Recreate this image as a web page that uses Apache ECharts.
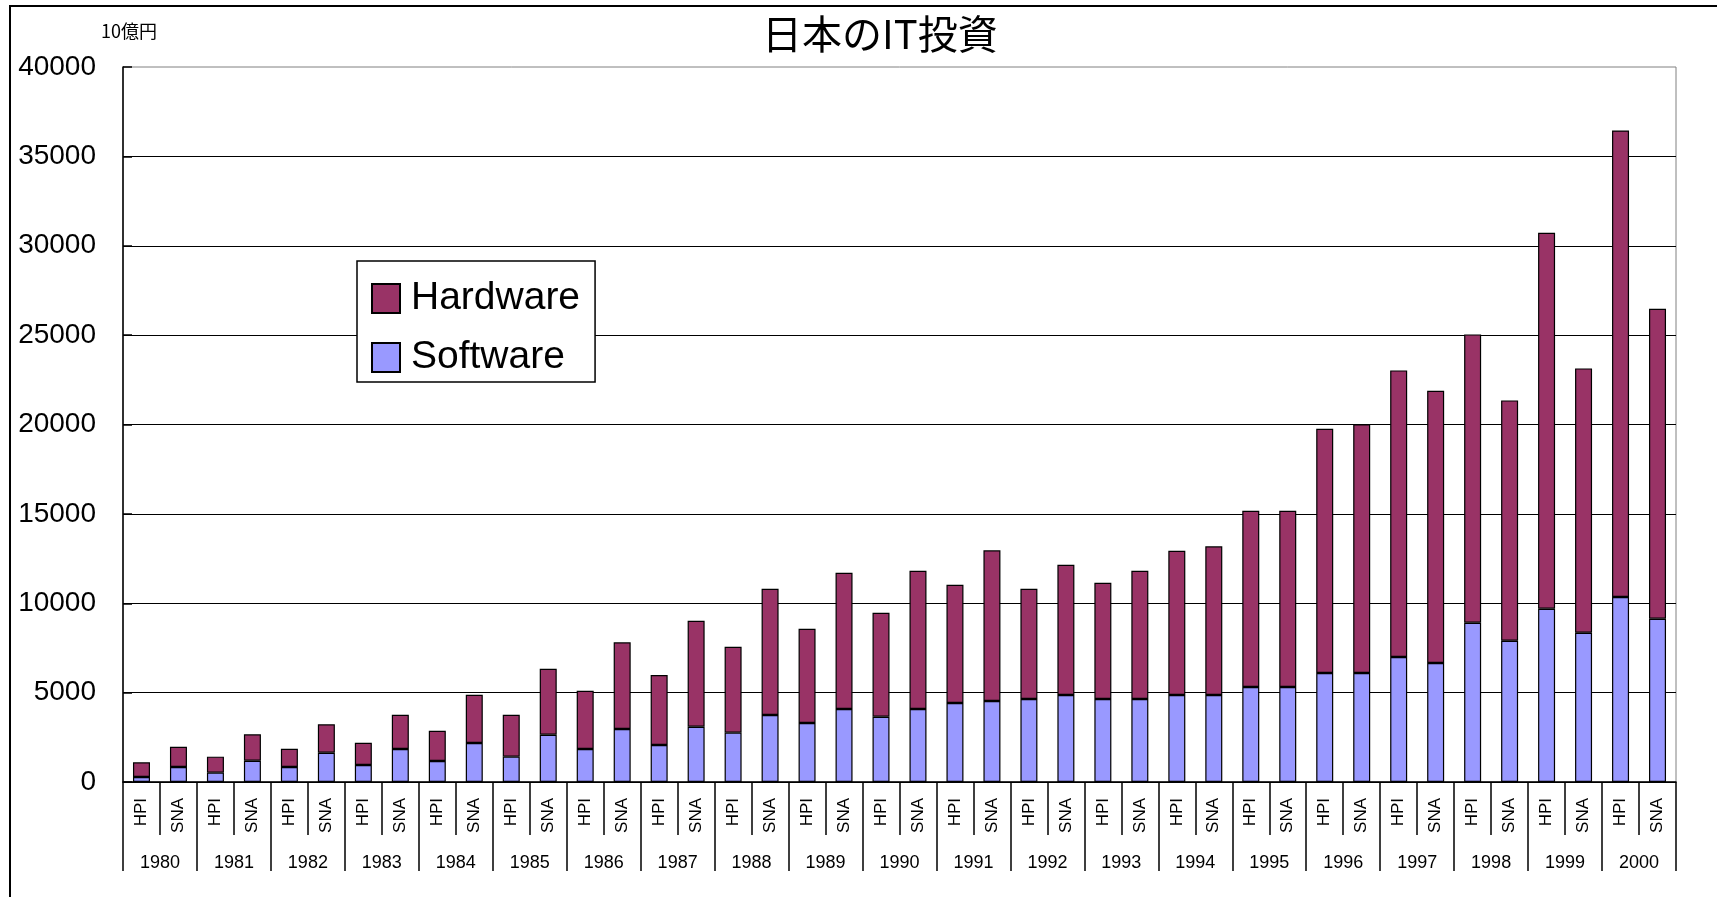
<!DOCTYPE html>
<html>
<head>
<meta charset="utf-8">
<title>日本のIT投資</title>
<script src="https://cdn.jsdelivr.net/npm/echarts@6/dist/echarts.min.js"></script>
<style>
    html, body { margin: 0; padding: 0; background: #fff; }
    #chartDiv { width: 1717px; height: 897px; }
</style>
</head>
<body>
<div id="chartDiv"></div>
<script>
var years = ['1980', '1981', '1982', '1983', '1984', '1985', '1986', '1987', '1988', '1989', '1990',
    '1991', '1992', '1993', '1994', '1995', '1996', '1997', '1998', '1999', '2000'];
var sources = ['HPI', 'SNA'];
var yTicks = [0, 5000, 10000, 15000, 20000, 25000, 30000, 35000, 40000];

// 10億円, HPI / SNA alternately per year
var software = [280, 840, 522, 1193, 840, 1640, 950, 1846, 1175, 2181, 1417, 2647, 1846, 2964,
    2069, 3094, 2760, 3747, 3300, 4083, 3654, 4083, 4418, 4530, 4642, 4866, 4642, 4642,
    4866, 4866, 5313, 5313, 6096, 6096, 6991, 6656, 8911, 7903, 9694, 8351, 10347, 9135];
var hardware = [820, 1135, 895, 1474, 1024, 1586, 1249, 1920, 1696, 2704, 2349, 3691, 3261, 4848,
    3916, 5929, 4809, 7066, 5276, 7626, 5816, 7735, 6619, 8429, 6171, 7288, 6505, 7176,
    8071, 8317, 9861, 9861, 13664, 13910, 16035, 15229, 16129, 13446, 21029, 14787, 26103, 17338];

var categories = [];
years.forEach(function () {
    sources.forEach(function (s) { categories.push(s); });
});

var latin = '"Liberation Sans", Arial, sans-serif';
var myChart = echarts.init(document.getElementById('chartDiv'));
myChart.setOption({
    animation: false,
    backgroundColor: '#fff',
    title: {
        text: '日本のIT投資',
        left: 762,
        top: 14,
        padding: 0,
        textStyle: {
            fontFamily: '"Noto Sans CJK JP", sans-serif',
            fontSize: 40,
            fontWeight: 'normal',
            color: '#000'
        }
    },
    graphic: [
        {
            type: 'rect',
            shape: { x: 10, y: 6, width: 1800, height: 1000 },
            style: { fill: 'none', stroke: '#000', lineWidth: 2 },
            silent: true
        },
        {
            type: 'text',
            left: 101,
            top: 22,
            style: {
                text: '10億円',
                font: '18px "Noto Sans CJK JP", sans-serif',
                fill: '#000'
            }
        }
    ],
    legend: {
        data: ['Hardware', 'Software'],
        orient: 'vertical',
        left: 357,
        top: 261,
        padding: [18, 15, 5, 14],
        itemGap: 20,
        itemWidth: 28,
        itemHeight: 29,
        icon: 'rect',
        backgroundColor: '#fff',
        borderColor: '#000',
        borderWidth: 1.5,
        textStyle: {
            fontFamily: latin,
            fontSize: 39,
            color: '#000',
            padding: [0, 0, 0, 6]
        }
    },
    grid: {
        left: 123,
        right: 41,
        top: 67,
        bottom: 115,
        show: true,
        borderColor: '#808080',
        borderWidth: 1
    },
    xAxis: [
        {
            type: 'category',
            data: categories,
            axisLine: { show: true, lineStyle: { color: '#000', width: 1.5 } },
            axisTick: { show: true, interval: 0, length: 53, lineStyle: { color: '#000', width: 1.5 } },
            axisLabel: {
                interval: 0,
                rotate: 90,
                margin: 16,
                fontFamily: latin,
                fontSize: 17,
                color: '#000'
            }
        },
        {
            type: 'category',
            data: years,
            position: 'bottom',
            axisLine: { show: false },
            axisTick: { show: true, interval: 0, length: 89, lineStyle: { color: '#000', width: 1.5 } },
            axisLabel: {
                interval: 0,
                margin: 72,
                fontFamily: latin,
                fontSize: 18,
                color: '#000'
            }
        }
    ],
    yAxis: {
        type: 'value',
        min: yTicks[0],
        max: yTicks[yTicks.length - 1],
        interval: yTicks[1] - yTicks[0],
        axisLine: { show: true, lineStyle: { color: '#000', width: 1.5 } },
        axisTick: { show: true, inside: true, length: 9, lineStyle: { color: '#000', width: 1.5 } },
        axisLabel: {
            margin: 27,
            fontFamily: latin,
            fontSize: 28,
            color: '#000',
            formatter: function (v) { return String(v); }
        },
        splitLine: {
            show: true,
            showMaxLine: false,
            lineStyle: { color: '#000', width: 1.2 }
        }
    },
    series: [
        {
            name: 'Software',
            type: 'bar',
            stack: 'it',
            barWidth: 17,
            data: software,
            itemStyle: { color: '#9999FF', borderColor: '#000', borderWidth: 1.2 }
        },
        {
            name: 'Hardware',
            type: 'bar',
            stack: 'it',
            barWidth: 17,
            data: hardware,
            itemStyle: { color: '#993366', borderColor: '#000', borderWidth: 1.2 }
        }
    ]
});
</script>
</body>
</html>
